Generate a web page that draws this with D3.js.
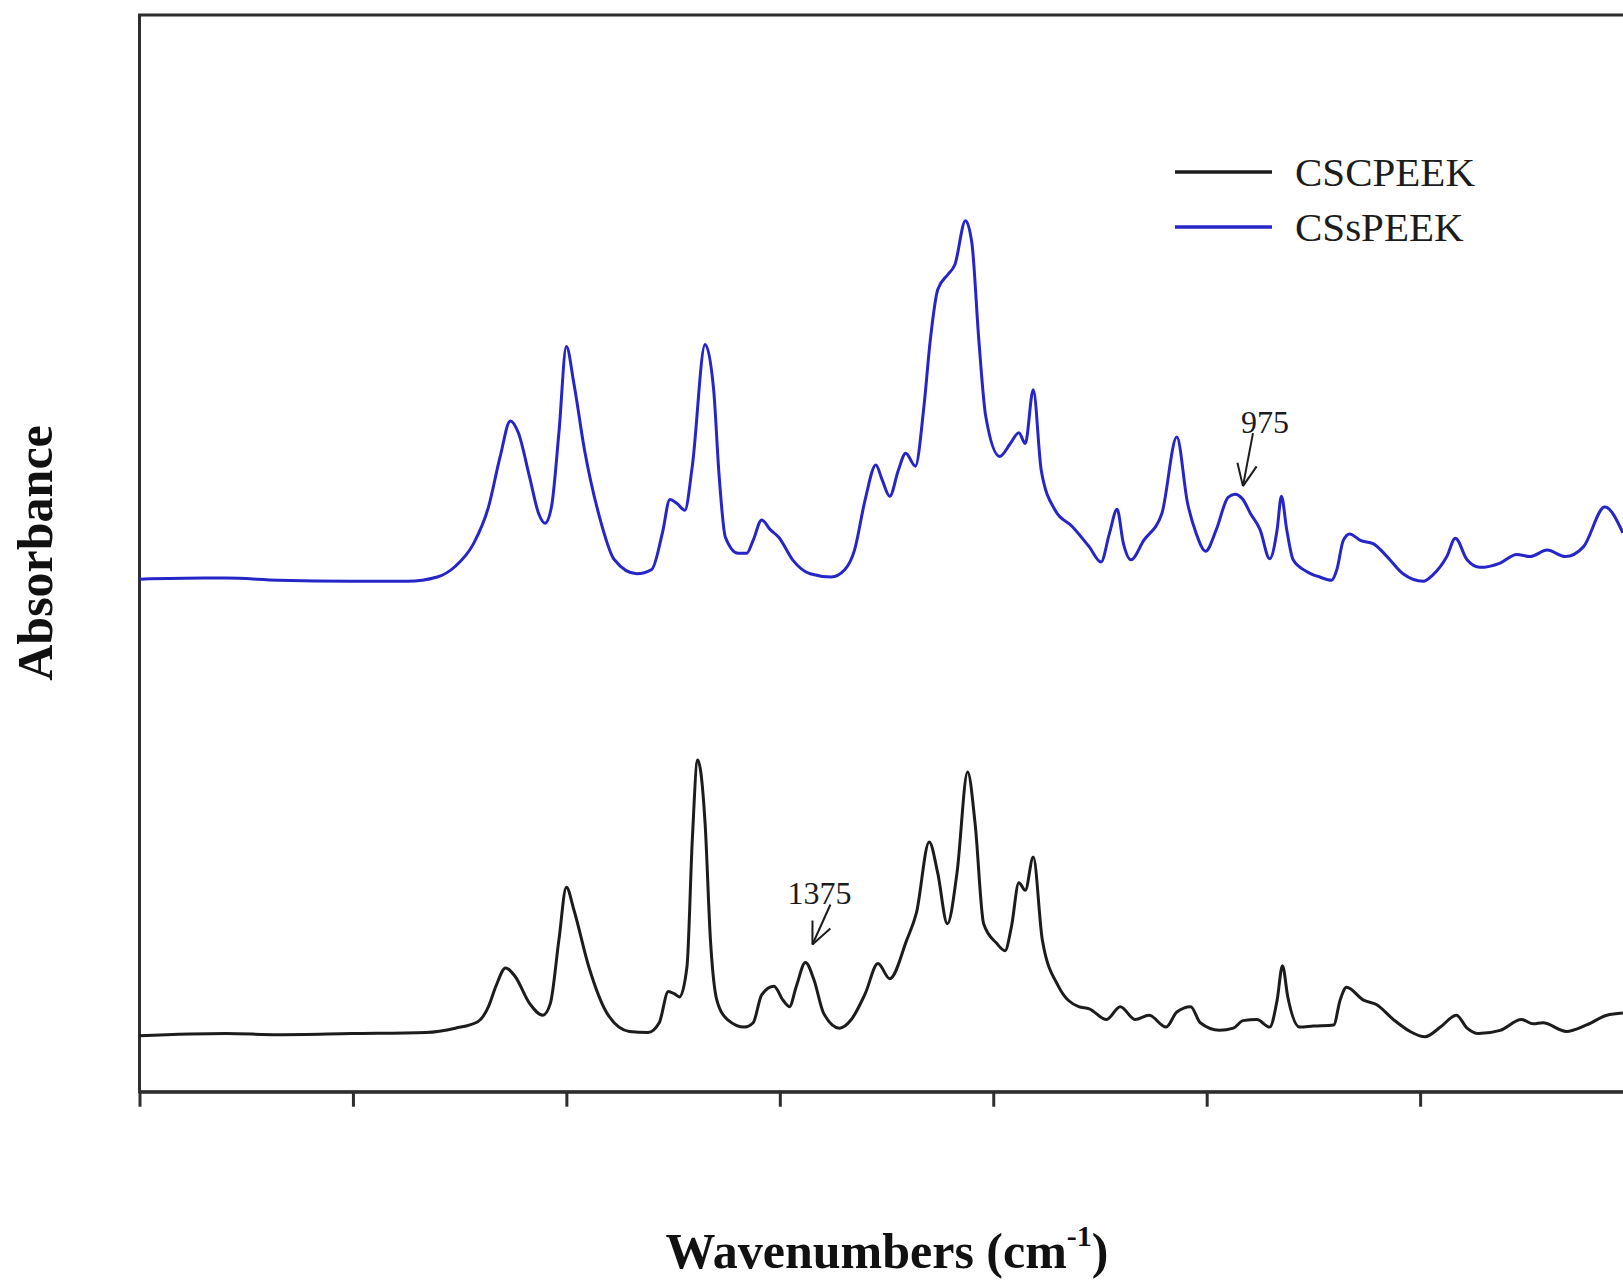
<!DOCTYPE html>
<html>
<head>
<meta charset="utf-8">
<script src="https://cdn.jsdelivr.net/npm/d3@7"></script>
<style>
  body { margin: 0; background: #fff; }
  text { font-family: "Liberation Serif", "Times New Roman", serif; }
</style>
</head>
<body>
<svg id="chart" width="1623" height="1280"></svg>
<script>
  // CSsPEEK (blue, upper trace)
  const csspeekWn = [2000, 1940, 1919, 1870, 1801, 1749, 1721, 1704, 1687, 1673, 1662, 1652.5, 1645, 1634.5, 1626, 1620,
    1614, 1607, 1600, 1593, 1583, 1569, 1555, 1534, 1520, 1510, 1503, 1496, 1489, 1482, 1470, 1462, 1457, 1451,
    1439, 1431, 1425, 1417, 1409, 1401, 1388, 1371.5, 1352, 1339, 1330, 1320, 1310, 1304, 1297, 1289, 1282, 1273,
    1265, 1259, 1252, 1242.5, 1236, 1226, 1220, 1213.5, 1207, 1194, 1184, 1176, 1170, 1162.5, 1155, 1142, 1126,
    1110, 1099, 1091, 1084, 1078, 1071, 1059, 1042, 1028, 1018, 1010, 1001, 991, 980, 973.5, 966, 959, 950, 941,
    934, 930, 925, 919, 906, 894, 883, 878, 872, 866, 856, 844, 831, 816, 797, 788, 775, 767, 756, 744, 725, 709.5,
    697, 681, 664, 647, 627, 610];
  const csspeekAbs = [0.476, 0.477, 0.477, 0.475, 0.474, 0.474, 0.478, 0.488, 0.509, 0.543, 0.590, 0.623, 0.612, 0.571, 0.537, 0.528,
    0.543, 0.612, 0.692, 0.658, 0.596, 0.534, 0.494, 0.481, 0.485, 0.519, 0.550, 0.546, 0.540, 0.581, 0.694, 0.652, 0.574, 0.515,
    0.500, 0.500, 0.512, 0.531, 0.522, 0.515, 0.494, 0.481, 0.478, 0.485, 0.503, 0.550, 0.582, 0.568, 0.553, 0.577, 0.593, 0.581,
    0.636, 0.698, 0.745, 0.759, 0.768, 0.809, 0.788, 0.698, 0.627, 0.590, 0.602, 0.612, 0.602, 0.652, 0.577, 0.540, 0.525,
    0.506, 0.492, 0.519, 0.541, 0.509, 0.494, 0.512, 0.537, 0.608, 0.547, 0.519, 0.502, 0.522, 0.552, 0.555, 0.550, 0.537, 0.522, 0.495,
    0.522, 0.553, 0.522, 0.494, 0.483, 0.478, 0.475, 0.485, 0.512, 0.518, 0.512, 0.509, 0.497, 0.481, 0.474, 0.480, 0.497, 0.514, 0.494, 0.487, 0.491, 0.499,
    0.497, 0.503, 0.497, 0.506, 0.543, 0.519];

  // CSCPEEK (black, lower trace)
  const cscpeekWn = [2000, 1919, 1870, 1801, 1731.5, 1704, 1683, 1673, 1666, 1657, 1648, 1634.5, 1622, 1615, 1607, 1600,
    1593, 1579, 1562, 1541, 1523.5, 1513, 1504.5, 1499, 1494, 1487, 1482, 1477, 1470, 1465, 1459, 1449, 1433, 1425,
    1417, 1405.5, 1397, 1391, 1384.5, 1376, 1368, 1359, 1344, 1333, 1320, 1308, 1297, 1281, 1272, 1260, 1252, 1243,
    1234, 1224, 1217, 1209, 1197, 1189, 1183, 1176, 1170, 1162.5, 1154, 1139, 1120, 1110, 1094, 1081, 1067, 1054,
    1038, 1028, 1015, 1006, 988, 975, 966, 953, 941, 934, 929, 924, 913, 900, 881, 875, 869, 853, 841, 825, 809.5,
    795.5, 781, 766, 756, 745.5, 725, 705, 694, 685, 663, 644, 625, 610];
  const cscpeekAbs = [0.052, 0.054, 0.053, 0.054, 0.055, 0.059, 0.065, 0.079, 0.098, 0.115, 0.107, 0.082, 0.071, 0.082, 0.141, 0.190,
    0.169, 0.116, 0.073, 0.056, 0.055, 0.064, 0.093, 0.091, 0.088, 0.116, 0.234, 0.308, 0.249, 0.141, 0.085, 0.067, 0.060, 0.064,
    0.090, 0.098, 0.085, 0.079, 0.098, 0.120, 0.104, 0.073, 0.059, 0.067, 0.091, 0.119, 0.105, 0.141, 0.166, 0.232, 0.203, 0.156,
    0.203, 0.297, 0.249, 0.156, 0.138, 0.131, 0.153, 0.194, 0.187, 0.218, 0.141, 0.098, 0.079, 0.077, 0.067, 0.079, 0.067, 0.071,
    0.060, 0.074, 0.079, 0.064, 0.057, 0.059, 0.066, 0.067, 0.060, 0.085, 0.117, 0.088, 0.060, 0.061, 0.062, 0.085, 0.097, 0.085, 0.081, 0.067, 0.056,
    0.051, 0.060, 0.071, 0.059, 0.054, 0.057, 0.067, 0.063, 0.064, 0.056, 0.062, 0.071, 0.073];

  const seriesNames = ['CSCPEEK', 'CSsPEEK'];
  const seriesColors = ['#1c1c1c', '#2626c8'];
  const xTicks = [2000, 1800, 1600, 1400, 1200, 1000, 800, 600, 400];

  // peak annotations: label, wavenumber and absorbance of the marked peak
  const annotations = [
    { label: '1375', wn: 1376, abs: 0.120, dx: 7, dy: -18, tail: [18, -40], textDx: -11 },
    { label: '975', wn: 973.5, abs: 0.555, dx: 8, dy: -8, tail: [10, -53], textDx: 12 },
  ];

  const series = [
    { name: seriesNames[0], color: seriesColors[0], values: cscpeekWn.map((w, i) => ({ wn: w, abs: cscpeekAbs[i] })) },
    { name: seriesNames[1], color: seriesColors[1], values: csspeekWn.map((w, i) => ({ wn: w, abs: csspeekAbs[i] })) },
  ];

  const svg = d3.select('#chart');
  svg.append('rect').attr('width', 1623).attr('height', 1280).attr('fill', '#fff');

  const plotLeft = 139.5, plotRight = 1847, plotTop = 15, plotBottom = 1091.7;

  const x = d3.scaleLinear().domain([2000, 400]).range([plotLeft, plotRight]);
  const y = d3.scaleLinear().domain([0, 1]).range([plotBottom, plotTop]);

  // frame
  svg.append('rect')
    .attr('x', plotLeft).attr('y', plotTop)
    .attr('width', plotRight - plotLeft).attr('height', plotBottom - plotTop)
    .attr('fill', 'none').attr('stroke', '#2e2e2e').attr('stroke-width', 3);

  const xAxis = svg.append('g')
    .attr('transform', `translate(0,${plotBottom})`)
    .call(d3.axisBottom(x).tickValues(xTicks).tickSize(15).tickSizeOuter(0).tickFormat(''));
  xAxis.select('.domain').attr('stroke', '#2e2e2e').attr('stroke-width', 3);
  xAxis.selectAll('.tick line').attr('stroke', '#2e2e2e').attr('stroke-width', 3);

  const line = d3.line()
    .x(d => x(d.wn))
    .y(d => y(d.abs))
    .curve(d3.curveMonotoneX);

  svg.selectAll('path.trace')
    .data(series)
    .enter()
    .append('path')
    .attr('class', 'trace')
    .attr('fill', 'none')
    .attr('stroke', d => d.color)
    .attr('stroke-width', 3)
    .attr('stroke-linejoin', 'round')
    .attr('d', d => line(d.values));

  // annotations with open arrow heads
  annotations.forEach(a => {
    const tx = x(a.wn) + a.dx, ty = y(a.abs) + a.dy;
    const sx = tx + a.tail[0], sy = ty + a.tail[1];
    const g = svg.append('g').attr('stroke', '#1c1c1c').attr('stroke-width', 2).attr('fill', 'none');
    g.append('line').attr('x1', sx).attr('y1', sy).attr('x2', tx).attr('y2', ty);
    const ang = Math.atan2(sy - ty, sx - tx);
    [-0.42, 0.42].forEach(o => {
      g.append('line')
        .attr('x1', tx).attr('y1', ty)
        .attr('x2', tx + 24 * Math.cos(ang + o))
        .attr('y2', ty + 24 * Math.sin(ang + o));
    });
    svg.append('text')
      .attr('x', sx + a.textDx).attr('y', sy)
      .attr('text-anchor', 'middle')
      .attr('font-size', 32)
      .attr('fill', '#1c1c1c')
      .text(a.label);
  });

  // legend
  const legend = svg.append('g').attr('transform', 'translate(1175,172)');
  series.forEach((s, i) => {
    const row = legend.append('g').attr('transform', `translate(0,${i * 55})`);
    row.append('line').attr('x1', 0).attr('x2', 97).attr('y1', 0).attr('y2', 0)
      .attr('stroke', s.color).attr('stroke-width', 3.5);
    row.append('text').attr('x', 120).attr('y', 14)
      .attr('font-size', 41).attr('fill', '#1c1c1c')
      .text(s.name);
  });

  // axis titles
  const xt = svg.append('text')
    .attr('x', 887).attr('y', 1268)
    .attr('text-anchor', 'middle')
    .attr('font-size', 50).attr('font-weight', 'bold').attr('fill', '#111');
  xt.append('tspan').text('Wavenumbers (cm');
  xt.append('tspan').attr('font-size', 30).attr('dy', -22).text('-1');
  xt.append('tspan').attr('dy', 22).text(')');

  svg.append('text')
    .attr('transform', 'translate(52,553) rotate(-90)')
    .attr('text-anchor', 'middle')
    .attr('font-size', 50).attr('font-weight', 'bold').attr('fill', '#111')
    .text('Absorbance');
</script>
</body>
</html>
